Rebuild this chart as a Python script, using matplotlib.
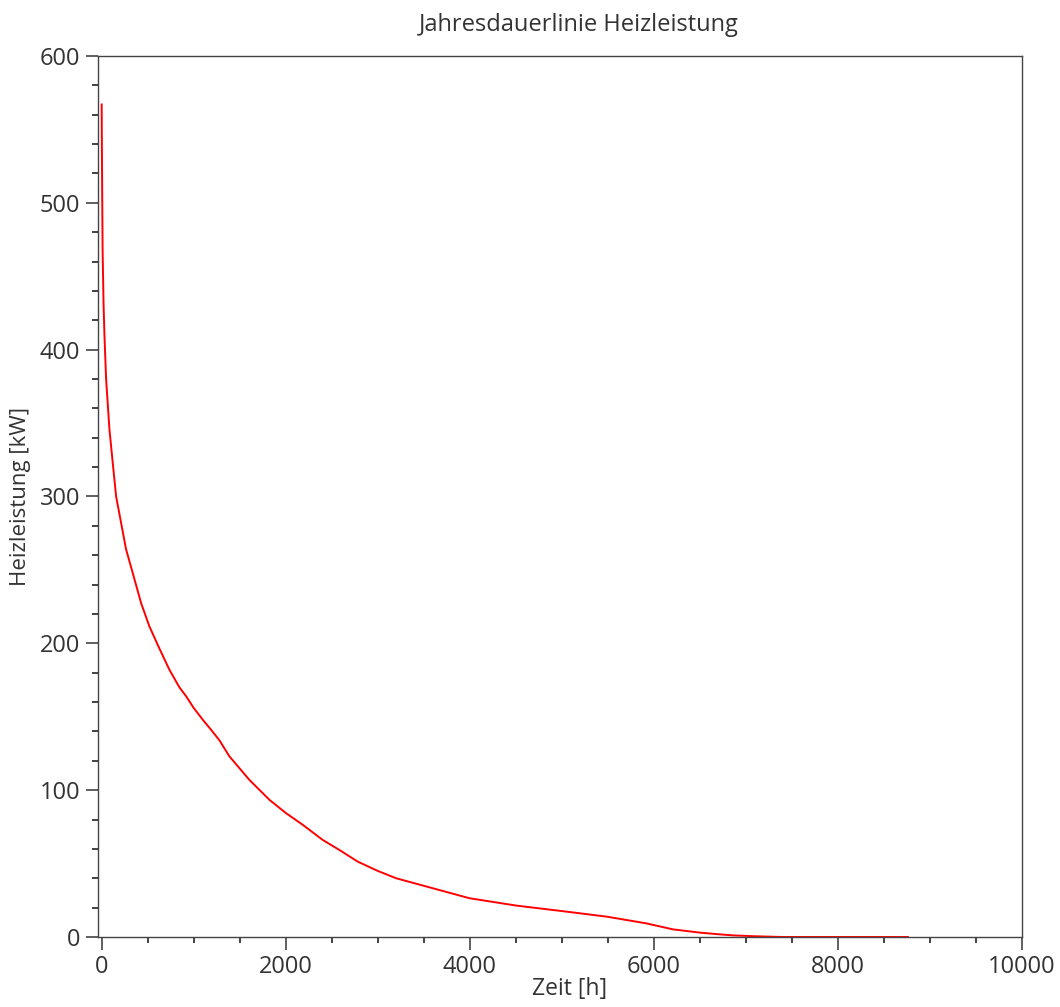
import matplotlib
matplotlib.use("Agg")
import matplotlib.pyplot as plt
from matplotlib.ticker import MultipleLocator

# Jahresdauerlinie
hours = [0, 2, 5, 10, 20, 30, 48, 84, 120, 157, 211, 265, 337, 428, 518,
         627, 736, 845, 917, 1000, 1098, 1190, 1279, 1388, 1605, 1823, 2004,
         2185, 2402, 2590, 2783, 3000, 3200, 3598, 3997, 4504, 5048, 5483,
         5917, 6207, 6497, 6714, 6858, 7100, 7400, 8000, 8760]
power = [567, 540, 512, 468, 432, 410, 380, 346, 323, 300, 282, 264, 248,
         227.5, 211.6, 196.5, 182, 170, 164, 156, 148, 141, 134, 123, 107,
         93.4, 84.3, 76.4, 66.1, 59, 51.3, 45, 40, 33.2, 26.4, 21.4, 17.3,
         13.9, 9.3, 5.2, 3, 1.8, 1.1, 0.5, 0, 0, 0]

plt.rcParams['font.family'] = ['Open Sans', 'DejaVu Sans']
TXT = '#333333'
AX = '#444444'

fig = plt.figure(figsize=(10.6, 10.07), dpi=100)
ax = fig.add_axes([98 / 1060, 1 - 937 / 1007, (1022 - 98) / 1060, (937 - 56) / 1007])

ax.plot(hours, power, color='#ff0000', lw=1.4)

ax.set_xlim(-40, 10000)
ax.set_ylim(0, 600)
ax.xaxis.set_major_locator(MultipleLocator(2000))
ax.xaxis.set_minor_locator(MultipleLocator(500))
ax.yaxis.set_major_locator(MultipleLocator(100))
ax.yaxis.set_minor_locator(MultipleLocator(20))

ax.tick_params(which='major', direction='out', length=9, width=1.2, colors=AX,
               labelcolor=TXT, labelsize=17, pad=4)
ax.tick_params(which='minor', direction='out', length=4.5, width=1.2, colors='#222222')
for s in ax.spines.values():
    s.set_color(AX)
    s.set_linewidth(1.0)

ax.set_xlabel('Zeit [h]', fontsize=16.5, color=TXT, labelpad=3)
ax.set_ylabel('Heizleistung [kW]', fontsize=16, color=TXT, labelpad=6)
ax.xaxis.set_label_coords(0.51, -0.045)
fig.text(579 / 1060, 1 - 25 / 1007, 'Jahresdauerlinie Heizleistung',
         ha='center', va='center', fontsize=17, color=TXT)

fig.savefig('out.png', dpi=100, facecolor='white')
